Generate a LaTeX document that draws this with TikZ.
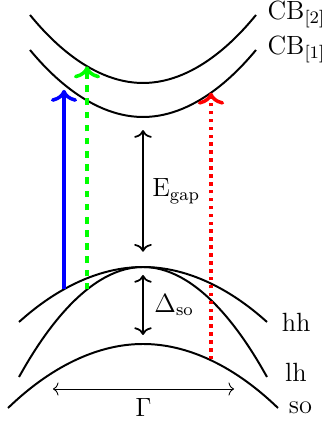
\documentclass[tikz,border=0pt]{standalone}
\usepackage{amsmath}
\usepackage{tikz}
\usetikzlibrary{arrows.meta}

\begin{document}
\begin{tikzpicture}[
			band/.style={line width=0.9pt},
			gaparrow/.style={line width=0.8pt, {Computer Modern Rightarrow[length=3.5pt,width=8pt]}-{Computer Modern Rightarrow[length=3.5pt,width=8pt]}},
			kwidth/.style={line width=0.4pt, {Computer Modern Rightarrow[length=2.5pt,width=6pt]}-{Computer Modern Rightarrow[length=2.5pt,width=6pt]}},
			trans/.style={line width=1.6pt, -{Computer Modern Rightarrow[length=5.5pt,width=12pt]}},
			every node/.style={font=\fontsize{12}{14}\selectfont}
			]
			\useasboundingbox (-2.288,-2.56) rectangle (2.96,4.272);
			
			% conduction bands
			\draw[band] (-1.808,4.032) parabola bend (0,2.944) (1.808,4.032) node[right=1.5pt] (cbtwo) {$\mathrm{CB}_{[2]}$};
			\draw[band] (-1.808,3.472) parabola bend (0,2.4) (1.808,3.472) node[right=1.5pt] (cbone) {$\mathrm{CB}_{[1]}$};
			
			% valence bands
			\draw[band] (-1.984,-0.88) parabola bend (0,0) (1.984,-0.88) node[right=3pt] (hh) {hh};
			\draw[band] (-1.984,-1.76) parabola bend (0,0) (1.984,-1.76) node[right=4.5pt, yshift=2.3pt] (lh) {lh};
			\draw[band] (-2.16,-2.256) parabola bend (0,-1.232) (2.16,-2.256) node[right=1.2pt] (so) {so};
			
			% transitions
			\coordinate (bluelow) at (-1.264,-0.357);
			\coordinate (bluehigh) at (-1.264,2.835);
			\coordinate (greenlow) at (-0.896,-0.359);
			\coordinate (greenhigh) at (-0.896,3.211);
			\coordinate (redlow) at (1.088,-1.48);
			\coordinate (redhigh) at (1.088,2.79);
			\draw[trans, blue] (bluelow) -- (bluehigh);
			\draw[trans, green, dashed] (greenlow) -- (greenhigh);
			\draw[trans, red, dotted] (redlow) -- (redhigh);
			
			% gaps
			\coordinate (gaptop) at (0,2.19);
			\coordinate (gapbot) at (0,0.245);
			\coordinate (sotop) at (0,-0.128);
			\coordinate (sobot) at (0,-1.088);
			\draw[gaparrow] (gaptop) -- (gapbot) node[midway, right=0.5pt] (egap) {$\mathrm{E}_\mathrm{gap}$};
			\draw[gaparrow] (sotop) -- (sobot) node[midway, right=1.5pt] (dso) {$\Delta_\mathrm{so}$};
			
			\coordinate (kleft) at (-1.44,-1.952);
			\coordinate (kright) at (1.456,-1.952);
			\draw[kwidth] (kleft) -- (kright) node[midway, below=1pt] (gamma) {$\Gamma$};
		\end{tikzpicture}
\end{document}
